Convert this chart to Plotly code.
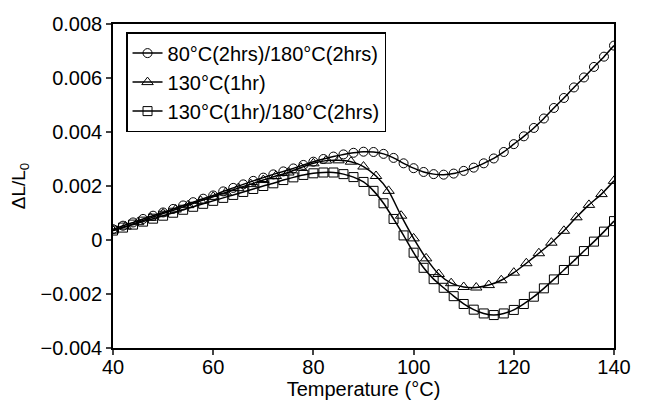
import plotly.graph_objects as go

# --- data ---
temp_c = [40 + 2 * i for i in range(51)]
temp_t = [40 + 2.5 * i for i in range(41)]

circle_vals = [
    0.00040, 0.00053, 0.00065, 0.00078, 0.00090, 0.00102, 0.00115, 0.00128, 0.00140, 0.00153,
    0.00165, 0.00180, 0.00193, 0.00206, 0.00219, 0.00231, 0.00243, 0.00254, 0.00265, 0.00278,
    0.00290, 0.00300, 0.00309, 0.00317, 0.00323, 0.00327, 0.00326, 0.00319, 0.00304, 0.00284,
    0.00266, 0.00252, 0.00244, 0.00242, 0.00246, 0.00256, 0.00268, 0.00284, 0.00302, 0.00326,
    0.00355, 0.00384, 0.00415, 0.00450, 0.00489, 0.00526, 0.00565, 0.00602, 0.00641, 0.00679,
    0.00720,
]
triangle_vals = [
    0.00035, 0.00050, 0.00066, 0.00082, 0.00098, 0.00113, 0.00129, 0.00145, 0.00160, 0.00176,
    0.00192, 0.00207, 0.00222, 0.00237, 0.00250, 0.00268, 0.00284, 0.00294, 0.00295, 0.00290,
    0.00272, 0.00237, 0.00182, 0.00090, 0.00006, -0.00068, -0.00126, -0.00160, -0.00174, -0.00176,
    -0.00167, -0.00149, -0.00121, -0.00086, -0.00049, -0.00010, 0.00034, 0.00084, 0.00130, 0.00170,
    0.00219,
]
square_vals = [
    0.00035, 0.00046, 0.00057, 0.00068, 0.00079, 0.00090, 0.00101, 0.00112, 0.00123, 0.00134,
    0.00145, 0.00156, 0.00167, 0.00178, 0.00189, 0.00200, 0.00210, 0.00222, 0.00232, 0.00241,
    0.00247, 0.00250, 0.00250, 0.00244, 0.00233, 0.00215, 0.00182, 0.00136, 0.00078, 0.00017,
    -0.00047, -0.00103, -0.00145, -0.00177, -0.00208, -0.00237, -0.00258, -0.00272, -0.00278, -0.00272,
    -0.00259, -0.00237, -0.00210, -0.00179, -0.00146, -0.00111, -0.00077, -0.00041, -0.00006, 0.00031,
    0.00070,
]

names = ["80°C(2hrs)/180°C(2hrs)", "130°C(1hr)", "130°C(1hr)/180°C(2hrs)"]
y_tickvals = [0.008, 0.006, 0.004, 0.002, 0, -0.002, -0.004]
y_ticktext = ["0.008", "0.006", "0.004", "0.002", "0", "\u22120.002", "\u22120.004"]
x_tickvals = [40, 60, 80, 100, 120, 140]

FONT = "Liberation Sans, Arial, sans-serif"

fig = go.Figure()
series = [
    (temp_c, circle_vals, "circle-open", 9),
    (temp_t, triangle_vals, "triangle-up-open", 10),
    (temp_c, square_vals, "square-open", 9),
]
for (xs, ys, sym, sz), nm in zip(series, names):
    fig.add_trace(go.Scatter(
        x=xs, y=ys, name=nm, mode="lines+markers",
        line=dict(color="black", width=1.5, shape="spline", smoothing=0.6),
        marker=dict(symbol=sym, size=sz, color="black", line=dict(color="#222", width=1)),
    ))

fig.update_layout(
    width=647, height=403,
    margin=dict(l=105, r=41, t=16, b=63),
    paper_bgcolor="white", plot_bgcolor="white",
    font=dict(family=FONT, size=20, color="black"),
    showlegend=True,
    legend=dict(
        x=0.026, y=0.975, xanchor="left", yanchor="top",
        bgcolor="white", bordercolor="black", borderwidth=1.5,
        font=dict(family=FONT, size=20, color="black"),
        tracegroupgap=0, itemwidth=30,
    ),
    xaxis=dict(
        range=[40, 140], tickvals=x_tickvals, ticks="outside", ticklen=5, tickwidth=1.5,
        ticklabelstandoff=-5,
        showline=True, linecolor="black", linewidth=1.5, mirror=True, showgrid=False,
        zeroline=False, title=dict(text="Temperature (°C)", standoff=0, font=dict(size=20)),
        tickfont=dict(size=20), automargin=False,
    ),
    yaxis=dict(
        range=[-0.004, 0.008], tickvals=y_tickvals, ticktext=y_ticktext, ticks="outside",
        ticklen=5, tickwidth=1.5, showline=True, linecolor="black", linewidth=1.5,
        mirror=True, showgrid=False, zeroline=False,
        title=dict(text="\u0394L/L<sub>0</sub>", standoff=16, font=dict(size=19)),
        tickfont=dict(size=20), automargin=False,
    ),
)

fig.write_html("out.html")
